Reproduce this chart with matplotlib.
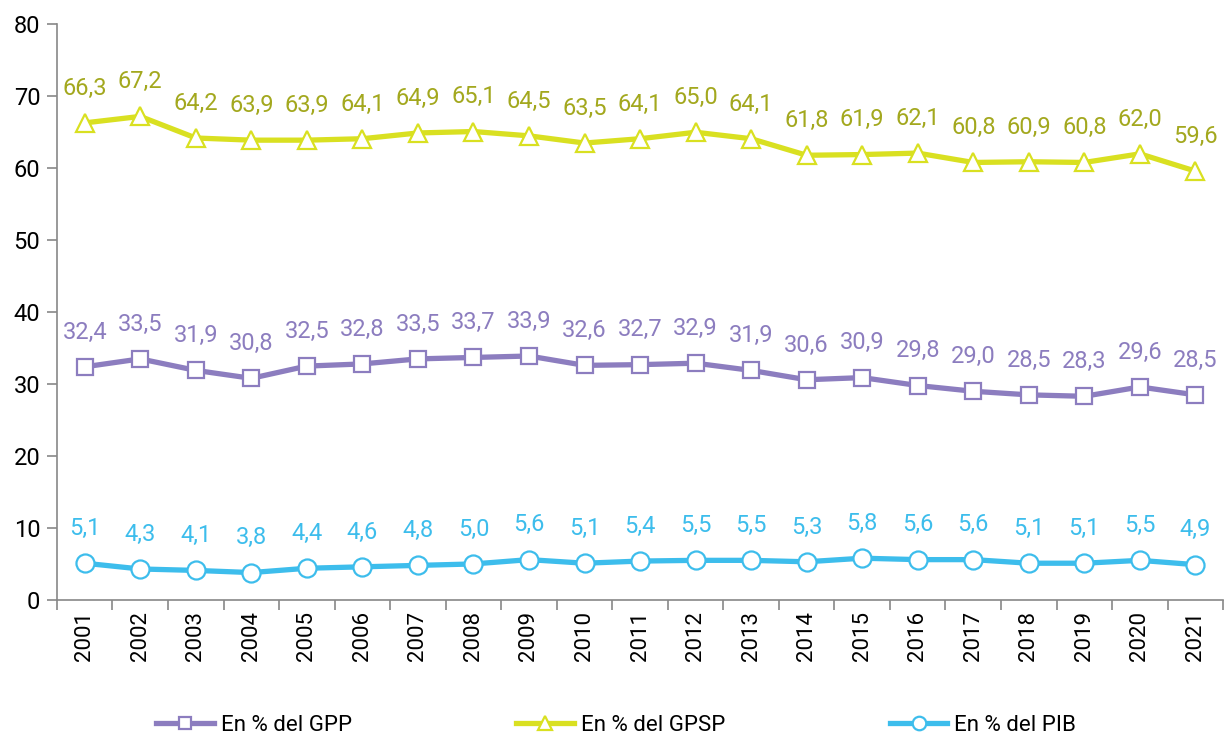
import numpy as np
import matplotlib.pyplot as plt
from matplotlib.ticker import FixedLocator

plt.rcParams['font.family'] = ['Roboto', 'DejaVu Sans']

years = [str(y) for y in range(2001, 2022)]
gpp = [32.4, 33.5, 31.9, 30.8, 32.5, 32.8, 33.5, 33.7, 33.9, 32.6, 32.7,
       32.9, 31.9, 30.6, 30.9, 29.8, 29.0, 28.5, 28.3, 29.6, 28.5]
gpsp = [66.3, 67.2, 64.2, 63.9, 63.9, 64.1, 64.9, 65.1, 64.5, 63.5, 64.1,
        65.0, 64.1, 61.8, 61.9, 62.1, 60.8, 60.9, 60.8, 62.0, 59.6]
pib = [5.1, 4.3, 4.1, 3.8, 4.4, 4.6, 4.8, 5.0, 5.6, 5.1, 5.4,
       5.5, 5.5, 5.3, 5.8, 5.6, 5.6, 5.1, 5.1, 5.5, 4.9]

series = [
    (gpp, 'En % del GPP', '#8C7DBF', '#8C7DBF', 's', 12),
    (gpsp, 'En % del GPSP', '#D9E021', '#A3A81E', '^', 13),
    (pib, 'En % del PIB', '#3DBDEC', '#3DBDEC', 'o', 13),
]

fig = plt.figure(figsize=(12.25, 7.37), dpi=100)
ax = fig.add_axes([0.0465, 0.186, 0.952, 0.781])
x = np.arange(len(years))

handles = []
for vals, label, col, lcol, mk, ms in series:
    (ln,) = ax.plot(x, vals, color=col, linewidth=3.8, marker=mk, markersize=ms,
                    markerfacecolor='white', markeredgecolor=col, markeredgewidth=1.6,
                    label=label, zorder=3)
    handles.append(ln)
    for xi, v in zip(x, vals):
        ax.annotate(('%.1f' % v).replace('.', ','), (xi, v), xytext=(0, 25),
                    textcoords='offset points', ha='center', va='center',
                    fontsize=17, color=lcol)

ax.set_xlim(-0.5, len(years) - 0.5)
ax.set_ylim(0, 80)
ax.set_yticks(np.arange(0, 81, 10))
ax.set_xticks(x)
ax.set_xticklabels(years, rotation=90, fontsize=16)
ax.xaxis.set_minor_locator(FixedLocator(np.arange(-0.5, len(years), 1)))
ax.tick_params(axis='x', which='major', length=0, pad=8)
ax.tick_params(axis='x', which='minor', length=7, color='#888888', width=1.2)
ax.tick_params(axis='y', length=7, color='#888888', width=1.2, labelsize=17, pad=5)

for s in ['top', 'right']:
    ax.spines[s].set_visible(False)
for s in ['left', 'bottom']:
    ax.spines[s].set_color('#888888')
    ax.spines[s].set_linewidth(1.2)

fig.legend(handles=handles, loc='center', bbox_to_anchor=(0.503, 0.016), ncol=3,
           frameon=False, fontsize=16, handlelength=2.6, handletextpad=0.3,
           columnspacing=7.4, markerscale=0.75)

fig.savefig('out.png', dpi=100)
